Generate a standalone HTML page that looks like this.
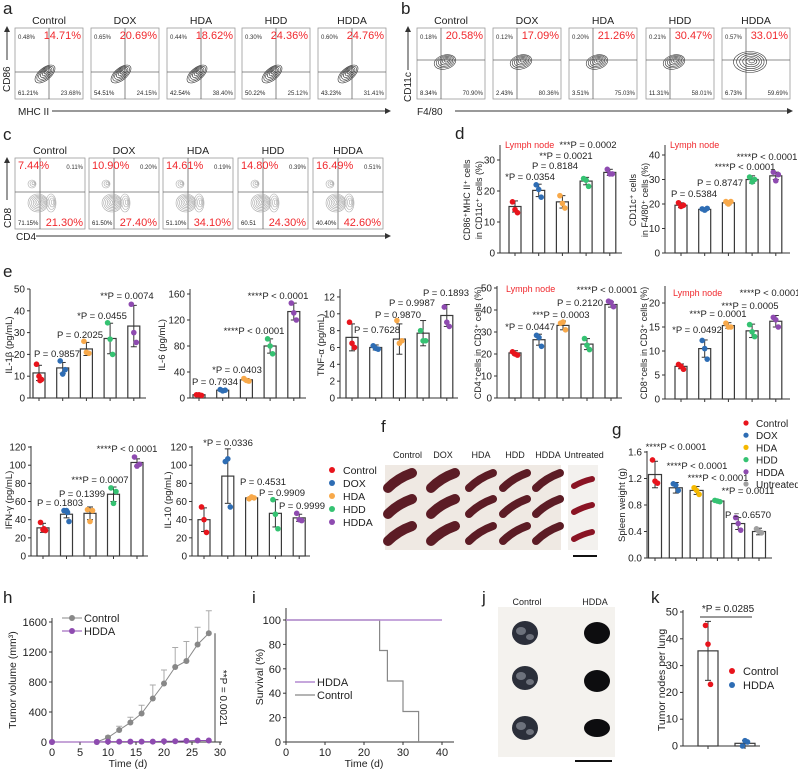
<!DOCTYPE html>
<html><head><meta charset="utf-8">
<style>
html,body{margin:0;padding:0;background:#fff;}
svg{display:block;font-family:"Liberation Sans",Arial,sans-serif;}
</style></head>
<body>
<svg id="fig" width="798" height="772" viewBox="0 0 798 772"></svg>
<script>
// ---------------- DATA ----------------
const groups5 = ["Control","DOX","HDA","HDD","HDDA"];
const colors5 = ["#e8141c","#2e6db4","#f8a94a","#35c272","#8e4bb0"];
// panel a
const aTL=["0.48%","0.65%","0.44%","0.30%","0.60%"];
const aTR=["14.71%","20.69%","18.62%","24.36%","24.76%"];
const aBL=["61.21%","54.51%","42.54%","50.22%","43.23%"];
const aBR=["23.68%","24.15%","38.40%","25.12%","31.41%"];
// panel b
const bTL=["0.18%","0.12%","0.20%","0.21%","0.57%"];
const bTR=["20.58%","17.09%","21.26%","30.47%","33.01%"];
const bBL=["8.34%","2.43%","3.51%","11.31%","6.73%"];
const bBR=["70.90%","80.36%","75.03%","58.01%","59.69%"];
// panel c
const cTL=["7.44%","10.90%","14.61%","14.80%","16.49%"];
const cTR=["0.11%","0.20%","0.19%","0.39%","0.51%"];
const cBL=["71.15%","61.50%","51.10%","60.51","40.40%"];
const cBR=["21.30%","27.40%","34.10%","24.30%","42.60%"];
// panel d
const d1Means=[15,20.2,16.5,23.2,26];
const d1Errs=[1.8,2,2,1.2,1];
const d1Pts=[[16.5,14,13],[22,20.5,18],[18.5,16,14.5],[24,23.5,21.5],[27,25.5,25.5]];
const d1Ticks=[0,10,20,30];
const d2Means=[19.5,17.8,20.5,30,31.5];
const d2Errs=[1,0.6,0.8,1.5,1.5];
const d2Pts=[[20.5,19,19.5],[18,17.5,18.2],[21,20,21],[31,29,30],[33,29.5,32]];
const d2Ticks=[0,10,20,30,40];
// panel e
const il1Means=[11.5,13.8,22.5,27.3,33];
const il1Errs=[3.5,2.5,3,7,9.5];
const il1Pts=[[15.5,10,8.5,8],[17,11,13],[26,21,20.5],[34.5,27,20],[43,30,25.5]];
const il1Ticks=[0,10,20,30,40,50];
const il6Means=[5,12,28,80,133];
const il6Errs=[1,1.5,2,11,13];
const il6Pts=[[5,5,4],[13,11,12],[30,27,26],[91,80,68],[146,131,120]];
const il6Ticks=[0,40,80,120,160];
const tnfMeans=[7.2,6,7,7.7,9.8];
const tnfErrs=[1.6,0.3,1.8,1.5,1.3];
const tnfPts=[[9,6.5,6],[6.2,5.9,5.8],[9.2,6.5,6.8],[8,6.8,6.8],[10.8,9,8.5]];
const tnfTicks=[0,2,4,6,8,10,12];
const cd4Means=[20.5,26.5,33,24.5,42.5];
const cd4Errs=[1,2.5,2,2.5,1.2];
const cd4Pts=[[21,20,19.5],[28.5,27.5,23.5],[34,34.5,31],[27,24,22],[44,43.5,41.5]];
const cd4Ticks=[0,10,20,30,40,50];
const cd8Means=[6.8,10.5,15.3,14.2,16.2];
const cd8Errs=[0.5,1.8,0.6,1.4,1.2];
const cd8Pts=[[7.2,6.8,6.2],[12.2,10.5,8.3],[15.8,15,15],[15.5,14,13],[17,16.5,15]];
const cd8Ticks=[0,5,10,15,20];
const ifnMeans=[31,46,47,68,103];
const ifnErrs=[5,4,7,8,4];
const ifnPts=[[37,29,28,30],[50,50,38,48],[51,38,50],[75,58,71],[109,99,101]];
const il10Means=[40,88,64,47,42];
const il10Errs=[13,30,1.5,15,4];
const il10Pts=[[54,40,26],[104,107,54],[63,65,64],[62,46,30],[47,40,39]];
const e2Ticks=[0,20,40,60,80,100,120];
// panel g
const gGroups=["Control","DOX","HDA","HDD","HDDA","Untreated"];
const gColors=["#e8141c","#2e6db4","#f5b800","#35c272","#8e4bb0","#a0a0a0"];
const gMeans=[1.26,1.06,1.02,0.86,0.52,0.40];
const gErrs=[0.2,0.08,0.06,0.02,0.09,0.05];
const gPts=[[1.48,1.16,1.13],[1.12,1.1,1.02],[1.06,1.02,0.96],[0.87,0.86,0.85],[0.61,0.52,0.42],[0.44,0.40,0.38]];
const gTicks=[0,0.4,0.8,1.2,1.6];
// panel h
const hDays=[0,8,10,12,14,16,18,20,22,24,26,28];
const hControl=[0,0,60,160,260,380,580,780,1000,1080,1300,1450];
const hControlErr=[0,0,20,50,70,110,180,180,260,260,230,300];
const hHdda=[0,0,5,5,5,5,5,10,10,15,20,20];
const hYTicks=[0,400,800,1200,1600];
const hXTicks=[0,5,10,15,20,25,30];
// panel i
const iHddaT=[0,40];
const iHddaS=[100,100];
const iCtrlT=[0,24,26,30,34];
const iCtrlS=[100,75,50,25,0];
const iYTicks=[0,20,40,60,80,100];
const iXTicks=[0,10,20,30,40];
// panel k
const kGroups=["Control","HDDA"];
const kColors=["#e8141c","#2e6db4"];
const kMeans=[35.5,1];
const kErrs=[11,1];
const kPts=[[45,38,23],[0,2,1.5]];
const kTicks=[0,10,20,30,40,50];

// ---------------- HELPERS ----------------
const NS="http://www.w3.org/2000/svg";
const svg=document.getElementById("fig");
function mk(tag,attrs,name,parent){
  const el=document.createElementNS(NS,tag);
  for(const k in attrs) el.setAttribute(k,attrs[k]);
  
  
  (parent||svg).appendChild(el);
  return el;
}
function T(x,y,s,name,o){
  o=o||{};
  const a={x:x,y:y,"font-size":o.fs||9.5,fill:o.fill||"#222","text-anchor":o.anchor||"start"};
  if(o.rot!==undefined) a.transform="rotate("+o.rot+" "+x+" "+y+")";
  if(o.fw) a["font-weight"]=o.fw;
  const el=mk("text",a,name);
  el.textContent=s;
  return el;
}
function L(x1,y1,x2,y2,name,st,w){
  return mk("line",{x1:x1,y1:y1,x2:x2,y2:y2,stroke:st||"#333","stroke-width":w||1},name);
}
const jit=[-2.5,0,2.5,1];
function barChart(c){
  const yp=v=>c.y0-v*c.ppu;
  L(c.ax,c.top,c.ax,c.y0,c.name+"-y-axis","#333",1);
  L(c.ax,c.y0,c.xEnd,c.y0,c.name+"-x-axis","#333",1);
  c.ticks.forEach(t=>{
    L(c.ax-3,yp(t),c.ax,yp(t),c.name+"-y-tick");
    T(c.ax-5,yp(t)+3.5,c.fmt?c.fmt(t):String(t),c.name+"-y-tick-label",{anchor:"end",fs:c.tfs||10});
  });
  c.means.forEach((m,i)=>{
    const cx=c.c0+i*c.dx;
    L(cx,c.y0,cx,c.y0+3,c.name+"-x-tick");
    mk("rect",{x:cx-c.bw/2,y:yp(m),width:c.bw,height:c.y0-yp(m),fill:"#fff",stroke:"#3a3a3a","stroke-width":1.2},c.name+"-bar-"+c.groups[i].toLowerCase());
    const e=c.errs[i];
    L(cx,yp(m-e),cx,yp(m+e),c.name+"-error-bar");
    L(cx-3,yp(m+e),cx+3,yp(m+e),c.name+"-error-cap");
    L(cx-3,yp(m-e),cx+3,yp(m-e),c.name+"-error-cap");
    c.pts[i].forEach((p,j)=>{
      mk("circle",{cx:cx+jit[j%4],cy:yp(p),r:2.8,fill:c.colors[i]},c.name+"-point-"+c.groups[i].toLowerCase());
    });
  });
  if(c.title){
    c.title.forEach((t,k)=>T(c.titleX+k*12,c.titleY,t,c.name+"-y-axis-title",{anchor:"middle",rot:-90,fs:c.ttfs||9.5}));
  }
}
function contour(cx,cy,rx,ry,rot,n,col,name){
  for(let i=0;i<n;i++){
    const f=1-i/n;
    mk("ellipse",{cx:cx+(1-f)*2,cy:cy-(1-f)*1,rx:rx*f,ry:ry*f,fill:"none",stroke:col,"stroke-width":0.6,transform:"rotate("+rot+" "+cx+" "+cy+")"},name);
  }
}
function flowBox(x,y,w,h,vx,hy,name,title,tl,tr,bl,br,redTL,redTR,redBR){
  T(x+w/2,y-4,title,name+"-title",{anchor:"middle",fs:10.5});
  mk("rect",{x:x,y:y,width:w,height:h,fill:"#fff",stroke:"#9a9a9a","stroke-width":0.8},name+"-frame");
  L(x+vx,y,x+vx,y+h,name+"-gate-vertical","#666",0.8);
  L(x,y+hy,x+w,y+hy,name+"-gate-horizontal","#666",0.8);
  T(x+3,y+11,tl,name+"-q1",{fs:redTL?11:6,fill:redTL?"#f0282d":"#333"});
  T(x+w-2,y+11,tr,name+"-q2",{fs:redTR?11:6,fill:redTR?"#f0282d":"#333",anchor:"end"});
  T(x+3,y+h-4,bl,name+"-q3",{fs:6});
  T(x+w-2,y+h-(redBR?3:4),br,name+"-q4",{fs:redBR?11:6,fill:redBR?"#f0282d":"#333",anchor:"end"});
}

// ---------------- PANEL LETTERS ----------------
[["a",3,14],["b",401,14],["c",3,140],["d",455,139],["e",3,277],["f",381,432],["g",612,435],["h",3,603],["i",252,603],["j",482,603],["k",651,603]]
.forEach(p=>T(p[1],p[2],p[0],"panel-label-"+p[0],{fs:17}));

// ---------------- PANEL A ----------------
const aX=[15,91,167,242,318];
aX.forEach((x,i)=>{
  flowBox(x,28,68,71,34,44,"panel-a-"+groups5[i].toLowerCase(),groups5[i],aTL[i],aTR[i],aBL[i],aBR[i],false,true,false);
  contour(x+30,28+46,12,6,-40,6,"#333","panel-a-contour");
});
L(7,60,7,31,"panel-a-cd86-arrow","#333",1);
mk("path",{d:"M4 32 L7 26 L10 32 Z",fill:"#333"},"panel-a-arrowhead");
T(10,92,"CD86","panel-a-y-label",{rot:-90,fs:10});
T(18,115,"MHC II","panel-a-x-label",{fs:10});
L(52,111,386,111,"panel-a-mhc-arrow","#333",1);
mk("path",{d:"M385 108 L391 111 L385 114 Z",fill:"#333"},"panel-a-arrowhead");

// ---------------- PANEL B ----------------
const bX=[417,493,569,646,722];
bX.forEach((x,i)=>{
  flowBox(x,28,68,71,24,32,"panel-b-"+groups5[i].toLowerCase(),groups5[i],bTL[i],bTR[i],bBL[i],bBR[i],false,true,false);
  const big=i===4?1.5:1;
  contour(x+28,28+34,11*big,7*big,i===4?0:-15,6,"#333","panel-b-contour");
});
L(408,70,408,31,"panel-b-cd11c-arrow","#333",1);
mk("path",{d:"M405 32 L408 26 L411 32 Z",fill:"#333"},"panel-b-arrowhead");
T(411,102,"CD11c","panel-b-y-label",{rot:-90,fs:10});
T(417,115,"F4/80","panel-b-x-label",{fs:10});
L(455,111,788,111,"panel-b-f480-arrow","#333",1);
mk("path",{d:"M787 108 L793 111 L787 114 Z",fill:"#333"},"panel-b-arrowhead");

// ---------------- PANEL C ----------------
const cX=[15,89,163,238,313];
cX.forEach((x,i)=>{
  flowBox(x,158,70,71,25,34,"panel-c-"+groups5[i].toLowerCase(),groups5[i],cTL[i],cTR[i],cBL[i],cBR[i],true,false,true);
  contour(x+23,158+45,10,9,0,7,"#aaa","panel-c-contour");
  contour(x+36,158+45,5,9,0,4,"#aaa","panel-c-contour");
  contour(x+17,158+26,4,4,0,3,"#aaa","panel-c-contour");
});
L(7,200,7,162,"panel-c-cd8-arrow","#333",1);
mk("path",{d:"M4 163 L7 157 L10 163 Z",fill:"#333"},"panel-c-arrowhead");
T(11,228,"CD8","panel-c-y-label",{rot:-90,fs:10});
T(16,240,"CD4","panel-c-x-label",{fs:10});
L(36,236,386,236,"panel-c-cd4-arrow","#333",1);
mk("path",{d:"M385 233 L391 236 L385 239 Z",fill:"#333"},"panel-c-arrowhead");

// ---------------- PANEL D ----------------
barChart({name:"panel-d-cd86",ax:500,y0:253,ppu:3.1,top:145,xEnd:622,c0:515,dx:23.7,bw:12,groups:groups5,colors:colors5,means:d1Means,errs:d1Errs,pts:d1Pts,ticks:d1Ticks,title:["CD86\u207AMHC II\u207A cells","in CD11c\u207A cells (%)"],titleX:470,titleY:200,ttfs:9});
T(505,148,"Lymph node","panel-d-lymph-node-1",{fill:"#f0282d",fs:9});
T(530,180,"*P = 0.0354","panel-d-pvalue",{anchor:"middle"});
T(555,169,"P = 0.8184","panel-d-pvalue",{anchor:"middle"});
T(566,159,"**P = 0.0021","panel-d-pvalue",{anchor:"middle"});
T(588,148,"***P = 0.0002","panel-d-pvalue",{anchor:"middle"});
barChart({name:"panel-d-cd11c",ax:665,y0:253,ppu:2.45,top:145,xEnd:790,c0:681,dx:23.7,bw:12,groups:groups5,colors:colors5,means:d2Means,errs:d2Errs,pts:d2Pts,ticks:d2Ticks,title:["CD11c\u207A cells","in F4/80\u207A cells (%)"],titleX:636,titleY:200,ttfs:9});
T(670,148,"Lymph node","panel-d-lymph-node-2",{fill:"#f0282d",fs:9});
T(694,197,"P = 0.5384","panel-d-pvalue",{anchor:"middle"});
T(720,186,"P = 0.8747","panel-d-pvalue",{anchor:"middle"});
T(745,170,"****P < 0.0001","panel-d-pvalue",{anchor:"middle"});
T(767,160,"****P < 0.0001","panel-d-pvalue",{anchor:"middle"});

// ---------------- PANEL E ----------------
barChart({name:"panel-e-il1b",ax:30,y0:398,ppu:2.18,top:289,xEnd:146,c0:39,dx:23.7,bw:12,groups:groups5,colors:colors5,means:il1Means,errs:il1Errs,pts:il1Pts,ticks:il1Ticks,title:["IL-1\u03B2 (pg/mL)"],titleX:12,titleY:345});
T(57,357,"P = 0.9857","panel-e-pvalue",{anchor:"middle"});
T(80,338,"P = 0.2025","panel-e-pvalue",{anchor:"middle"});
T(102,319,"*P = 0.0455","panel-e-pvalue",{anchor:"middle"});
T(127,299,"**P = 0.0074","panel-e-pvalue",{anchor:"middle"});
barChart({name:"panel-e-il6",ax:190,y0:398,ppu:0.65,top:289,xEnd:306,c0:199,dx:23.7,bw:12,groups:groups5,colors:colors5,means:il6Means,errs:il6Errs,pts:il6Pts,ticks:il6Ticks,title:["IL-6 (pg/mL)"],titleX:165,titleY:345});
T(215,385,"P = 0.7934","panel-e-pvalue",{anchor:"middle"});
T(237,373,"*P = 0.0403","panel-e-pvalue",{anchor:"middle"});
T(254,334,"****P < 0.0001","panel-e-pvalue",{anchor:"middle"});
T(278,299,"****P < 0.0001","panel-e-pvalue",{anchor:"middle"});
barChart({name:"panel-e-tnf",ax:340,y0:398,ppu:8.42,top:289,xEnd:458,c0:352,dx:23.7,bw:12,groups:groups5,colors:colors5,means:tnfMeans,errs:tnfErrs,pts:tnfPts,ticks:tnfTicks,title:["TNF-\u03B1 (pg/mL)"],titleX:324,titleY:345});
T(377,333,"P = 0.7628","panel-e-pvalue",{anchor:"middle"});
T(398,318,"P = 0.9870","panel-e-pvalue",{anchor:"middle"});
T(412,306,"P = 0.9987","panel-e-pvalue",{anchor:"middle"});
T(446,296,"P = 0.1893","panel-e-pvalue",{anchor:"middle"});
barChart({name:"panel-e-cd4",ax:497,y0:398,ppu:2.2,top:286,xEnd:622,c0:515,dx:24,bw:12,groups:groups5,colors:colors5,means:cd4Means,errs:cd4Errs,pts:cd4Pts,ticks:cd4Ticks,title:["CD4\u207Acells in CD3\u207A cells (%)"],titleX:481,titleY:343,ttfs:9});
T(506,292,"Lymph node","panel-e-lymph-node-1",{fill:"#f0282d",fs:9});
T(530,330,"*P = 0.0447","panel-e-pvalue",{anchor:"middle"});
T(561,318,"***P = 0.0003","panel-e-pvalue",{anchor:"middle"});
T(580,306,"P = 0.2120","panel-e-pvalue",{anchor:"middle"});
T(607,293,"****P < 0.0001","panel-e-pvalue",{anchor:"middle"});
barChart({name:"panel-e-cd8",ax:665,y0:399,ppu:4.8,top:286,xEnd:790,c0:681,dx:23.7,bw:12,groups:groups5,colors:colors5,means:cd8Means,errs:cd8Errs,pts:cd8Pts,ticks:cd8Ticks,title:["CD8\u207Acells in CD3\u207A cells (%)"],titleX:647,titleY:343,ttfs:9});
T(673,296,"Lymph node","panel-e-lymph-node-2",{fill:"#f0282d",fs:9});
T(697,333,"*P = 0.0492","panel-e-pvalue",{anchor:"middle"});
T(718,317,"***P = 0.0001","panel-e-pvalue",{anchor:"middle"});
T(750,309,"***P = 0.0005","panel-e-pvalue",{anchor:"middle"});
T(770,296,"****P < 0.0001","panel-e-pvalue",{anchor:"middle"});
barChart({name:"panel-e-ifn",ax:31,y0:556,ppu:0.908,top:446,xEnd:148,c0:43,dx:23.5,bw:12,groups:groups5,colors:colors5,means:ifnMeans,errs:ifnErrs,pts:ifnPts,ticks:e2Ticks,title:["IFN-\u03B3 (pg/mL)"],titleX:12,titleY:500});
T(60,506,"P = 0.1803","panel-e-pvalue",{anchor:"middle"});
T(82,497,"P = 0.1399","panel-e-pvalue",{anchor:"middle"});
T(100,483,"***P = 0.0007","panel-e-pvalue",{anchor:"middle"});
T(127,452,"****P < 0.0001","panel-e-pvalue",{anchor:"middle"});
barChart({name:"panel-e-il10",ax:192,y0:556,ppu:0.908,top:446,xEnd:310,c0:204,dx:23.8,bw:12,groups:groups5,colors:colors5,means:il10Means,errs:il10Errs,pts:il10Pts,ticks:e2Ticks,title:["IL-10 (pg/mL)"],titleX:171,titleY:500});
T(228,446,"*P = 0.0336","panel-e-pvalue",{anchor:"middle"});
T(263,485,"P = 0.4531","panel-e-pvalue",{anchor:"middle"});
T(282,496,"P = 0.9909","panel-e-pvalue",{anchor:"middle"});
T(302,509,"P = 0.9999","panel-e-pvalue",{anchor:"middle"});
groups5.forEach((g,i)=>{
  mk("circle",{cx:332,cy:470+i*13,r:3,fill:colors5[i]},"panel-e-legend-dot");
  T(343,474+i*13,g,"panel-e-legend-entry",{fs:10.5});
});

// ---------------- PANEL F ----------------
mk("rect",{x:385,y:465,width:176,height:85,fill:"#efe9e3"},"panel-f-photo");
mk("rect",{x:568,y:465,width:30,height:85,fill:"#f3f1ee"},"panel-f-untreated-photo");
const fCols=[400,443,481,515,548], fRows=[482,508,535];
fCols.forEach((cx,i)=>{
  T(i===0?393:cx,458,groups5[i],"panel-f-label",{anchor:i===0?"start":"middle",fs:9});
  fRows.forEach(cy=>{
    mk("path",{d:"M"+(cx-12)+" "+(cy+6)+" Q"+(cx-2)+" "+(cy-4)+" "+(cx+12)+" "+(cy-9),fill:"none",stroke:"#5c1c25","stroke-width":i<2?10:8,"stroke-linecap":"round"},"panel-f-spleen");
  });
});
T(584,458,"Untreated","panel-f-label-untreated",{anchor:"middle",fs:9});
fRows.forEach(cy=>mk("path",{d:"M574 "+(cy+4)+" Q583 "+(cy-1)+" 592 "+(cy-3),fill:"none",stroke:"#8a1424","stroke-width":6,"stroke-linecap":"round"},"panel-f-untreated-spleen"));
L(573,556,597,556,"panel-f-scale-bar","#111",2);

// ---------------- PANEL G ----------------
barChart({name:"panel-g-spleen",ax:647,y0:558,ppu:66.25,top:451,xEnd:772,c0:655,dx:20.8,bw:13,groups:gGroups,colors:gColors,means:gMeans,errs:gErrs,pts:gPts,ticks:gTicks,fmt:t=>t.toFixed(1),title:["Spleen weight (g)"],titleX:625,titleY:505});
T(676,450,"****P < 0.0001","panel-g-pvalue",{anchor:"middle"});
T(697,469,"****P < 0.0001","panel-g-pvalue",{anchor:"middle"});
T(718,481,"****P < 0.0001","panel-g-pvalue",{anchor:"middle"});
T(748,494,"**P = 0.0011","panel-g-pvalue",{anchor:"middle"});
T(748,518,"P = 0.6570","panel-g-pvalue",{anchor:"middle"});
gGroups.forEach((g,i)=>{
  mk("circle",{cx:746,cy:423+i*12.2,r:2.6,fill:gColors[i]},"panel-g-legend-dot");
  T(756,427+i*12.2,g,"panel-g-legend-entry",{fs:10});
});

// ---------------- PANEL H ----------------
(function(){
  const ax=52,y0=742,xp=d=>ax+d*5.6,yp=v=>y0-v*0.075;
  L(ax,618,ax,y0,"panel-h-y-axis");
  L(ax,y0,222,y0,"panel-h-x-axis");
  hYTicks.forEach(t=>{L(ax-3,yp(t),ax,yp(t),"panel-h-y-tick");T(ax-5,yp(t)+4,String(t),"panel-h-y-tick-label",{anchor:"end",fs:11});});
  hXTicks.forEach(t=>{L(xp(t),y0,xp(t),y0+3,"panel-h-x-tick");T(xp(t),y0+14,String(t),"panel-h-x-tick-label",{anchor:"middle",fs:11});});
  hDays.forEach((d,i)=>{
    if(hControlErr[i]>0){
      L(xp(d),yp(hControl[i]),xp(d),yp(hControl[i]+hControlErr[i]),"panel-h-error-bar","#aaa",1);
      L(xp(d)-3,yp(hControl[i]+hControlErr[i]),xp(d)+3,yp(hControl[i]+hControlErr[i]),"panel-h-error-cap","#aaa",1);
    }
  });
  mk("polyline",{points:hDays.map((d,i)=>xp(d)+","+yp(hControl[i])).join(" "),fill:"none",stroke:"#888","stroke-width":1},"panel-h-control-line");
  mk("polyline",{points:hDays.map((d,i)=>xp(d)+","+yp(hHdda[i])).join(" "),fill:"none",stroke:"#8e4bb0","stroke-width":1},"panel-h-hdda-line");
  hDays.forEach((d,i)=>{
    mk("circle",{cx:xp(d),cy:yp(hControl[i]),r:3,fill:"#888"},"panel-h-control-point");
    mk("circle",{cx:xp(d),cy:yp(hHdda[i]),r:3,fill:"#8e4bb0"},"panel-h-hdda-point");
  });
  L(215,yp(1450),215,y0,"panel-h-significance-line","#444",1);
  T(220,698,"**P = 0.0021","panel-h-pvalue",{rot:90,anchor:"middle",fs:10});
  L(62,618,82,618,"panel-h-legend-control-line","#888",1);
  mk("circle",{cx:72,cy:618,r:3,fill:"#888"},"panel-h-legend-control-dot");
  T(84,622,"Control","panel-h-legend-entry",{fs:11});
  L(62,631,82,631,"panel-h-legend-hdda-line","#8e4bb0",1);
  mk("circle",{cx:72,cy:631,r:3,fill:"#8e4bb0"},"panel-h-legend-hdda-dot");
  T(84,635,"HDDA","panel-h-legend-entry",{fs:11});
  T(16,680,"Tumor volume (mm\u00B3)","panel-h-y-axis-title",{rot:-90,anchor:"middle",fs:10.5});
  T(128,767,"Time (d)","panel-h-x-axis-title",{anchor:"middle",fs:10.5});
})();

// ---------------- PANEL I ----------------
(function(){
  const ax=286,y0=742,xp=d=>ax+d*3.9,yp=v=>y0-v*1.22;
  L(ax,608,ax,y0,"panel-i-y-axis");
  L(ax,y0,454,y0,"panel-i-x-axis");
  iYTicks.forEach(t=>{L(ax-3,yp(t),ax,yp(t),"panel-i-y-tick");T(ax-5,yp(t)+4,String(t),"panel-i-y-tick-label",{anchor:"end",fs:11});});
  iXTicks.forEach(t=>{L(xp(t),y0,xp(t),y0+3,"panel-i-x-tick");T(xp(t),y0+14,String(t),"panel-i-x-tick-label",{anchor:"middle",fs:11});});
  function steps(ts,ss){let p=xp(ts[0])+","+yp(ss[0]);for(let k=1;k<ts.length;k++){p+=" "+xp(ts[k])+","+yp(ss[k-1])+" "+xp(ts[k])+","+yp(ss[k]);}return p;}
  mk("polyline",{points:steps(iCtrlT,iCtrlS),fill:"none",stroke:"#888","stroke-width":1.2},"panel-i-control-curve");
  mk("polyline",{points:steps(iHddaT,iHddaS),fill:"none",stroke:"#b48ad0","stroke-width":1.4},"panel-i-hdda-curve");
  L(295,682,315,682,"panel-i-legend-hdda-line","#b48ad0",1.4);
  T(317,686,"HDDA","panel-i-legend-entry",{fs:11});
  L(295,695,315,695,"panel-i-legend-control-line","#888",1.2);
  T(317,699,"Control","panel-i-legend-entry",{fs:11});
  T(263,677,"Survival (%)","panel-i-y-axis-title",{rot:-90,anchor:"middle",fs:10.5});
  T(364,767,"Time (d)","panel-i-x-axis-title",{anchor:"middle",fs:10.5});
})();

// ---------------- PANEL J ----------------
mk("rect",{x:498,y:607,width:117,height:150,fill:"#f4f2ee"},"panel-j-photo");
T(527,605,"Control","panel-j-label-control",{anchor:"middle",fs:9});
T(595,605,"HDDA","panel-j-label-hdda",{anchor:"middle",fs:9});
[633,678,728].forEach((cy,r)=>{
  mk("ellipse",{cx:525,cy:cy,rx:13,ry:12,fill:"#2b2f3a"},"panel-j-lung-control");
  mk("ellipse",{cx:521,cy:cy-2,rx:5,ry:4,fill:"#8a8e98",opacity:0.7},"panel-j-lung-nodules");
  mk("ellipse",{cx:530,cy:cy+4,rx:4,ry:3,fill:"#9a9ea6",opacity:0.6},"panel-j-lung-nodules");
  mk("ellipse",{cx:597,cy:cy+(r===1?3:0),rx:13,ry:r===2?9:11,fill:"#0d0d0f"},"panel-j-lung-hdda");
});
L(575,761,612,761,"panel-j-scale-bar","#111",2);

// ---------------- PANEL K ----------------
barChart({name:"panel-k-nodes",ax:683,y0:746,ppu:2.68,top:610,xEnd:760,c0:708,dx:37,bw:20,groups:kGroups,colors:kColors,means:kMeans,errs:kErrs,pts:kPts,ticks:kTicks,tfs:11,title:["Tumor nodes per lung"],titleX:665,titleY:680,ttfs:10.5});
L(700,617,752,617,"panel-k-significance-line","#333",1);
T(728,612,"*P = 0.0285","panel-k-pvalue",{anchor:"middle",fs:10});
kGroups.forEach((g,i)=>{
  mk("circle",{cx:732,cy:671+i*14,r:3,fill:kColors[i]},"panel-k-legend-dot");
  T(743,675+i*14,g,"panel-k-legend-entry",{fs:11});
});
</script>
</body></html>
